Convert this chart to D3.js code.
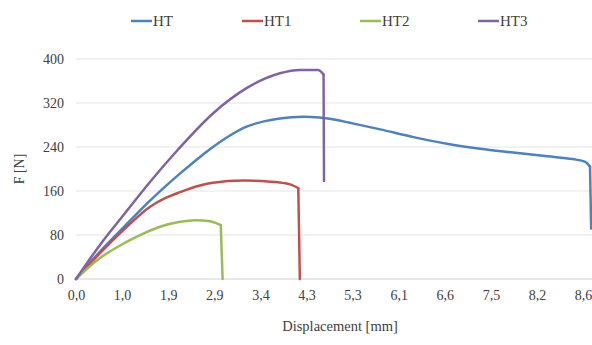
<!DOCTYPE html>
<html>
<head>
<meta charset="utf-8">
<script src="https://cdn.jsdelivr.net/npm/d3@7"></script>
<style>
  body { margin: 0; background: #fff; }
</style>
</head>
<body>
<div id="chart"></div>
<script>
// category labels shown on the x axis (Excel category axis)
const tickValues = [0, 1.0, 1.9, 2.9, 3.4, 4.3, 5.3, 6.1, 6.6, 7.5, 8.2, 8.6];
const tickLabels = ["0,0", "1,0", "1,9", "2,9", "3,4", "4,3", "5,3", "6,1", "6,6", "7,5", "8,2", "8,6"];
const yTicks = [0, 80, 160, 240, 320, 400];
const seriesNames = ["HT", "HT1", "HT2", "HT3"];

// displacement [mm] and force [N]
const htD = [0, 0.52, 1.06, 1.54, 2.16, 2.59, 2.87, 3.07, 3.25, 3.49, 3.78, 4.23, 4.96, 5.24, 5.78, 6.26, 6.64, 7.29, 7.84, 8.29, 8.51, 8.62, 8.66, 8.67];
const htF = [0, 50, 97, 142, 192, 222, 240, 261, 277, 287, 292, 295, 289, 284, 272, 258, 246, 237, 230, 223, 218, 213, 204, 92];

const ht1D = [0, 0.52, 1.06, 1.54, 1.84, 2.16, 2.59, 2.87, 3.21, 3.59, 3.98, 4.14, 4.17];
const ht1F = [0, 47, 92, 131, 147, 158, 170, 175, 179, 177, 172, 165, 0];

const ht2D = [0, 0.52, 1.06, 1.29, 1.74, 2.16, 2.48, 2.81, 2.97, 2.99];
const ht2F = [0, 38, 66, 77, 95, 104, 107, 105, 98, 0];

const ht3D = [0, 0.52, 1.06, 1.54, 2.11, 2.87, 3.25, 3.78, 4.17, 4.55, 4.67, 4.68];
const ht3F = [0, 62, 120, 176, 235, 301, 347, 374, 380, 380, 372, 178];

const colors = ["#4F81BD", "#C0504D", "#9BBB59", "#8064A2"];
const font = "'Liberation Serif'";

const width = 592;
const height = 345;
const margin = { top: 59, right: 0, bottom: 66, left: 76 };
const step = 46.1;

const svg = d3.select("#chart")
    .append("svg")
    .attr("width", width)
    .attr("height", height);

// category axis: each label sits at an equal step
const x = d3.scaleLinear()
    .domain(tickValues)
    .range(tickValues.map((d, i) => margin.left + i * step));

const y = d3.scaleLinear()
    .domain([0, 400])
    .range([height - margin.bottom, margin.top]);

// grid lines
svg.append("g")
    .selectAll("line")
    .data(yTicks)
    .join("line")
        .attr("x1", margin.left)
        .attr("x2", width)
        .attr("y1", d => y(d))
        .attr("y2", d => y(d))
        .attr("stroke", d => d === 0 ? "#d0d0d0" : "#e4e4e4")
        .attr("stroke-width", 1);

function yAxis(g) {
    g.attr("transform", `translate(${margin.left - 12}, 0)`)
        .call(d3.axisLeft(y).tickValues(yTicks).tickSize(0).tickPadding(0))
        .attr("font-size", "14px")
        .call(g => g.select(".domain").remove());
}

function xAxis(g) {
    g.attr("transform", `translate(0, ${y(0) + 11})`)
        .call(d3.axisBottom(x).tickValues(tickValues).tickSize(0).tickPadding(0)
            .tickFormat((d, i) => tickLabels[i]))
        .attr("font-size", "14px")
        .call(g => g.select(".domain").remove());
}

svg.append("g").call(yAxis);
svg.append("g").call(xAxis);
svg.selectAll(".tick text")
    .attr("fill", "#404040")
    .style("font-family", font);

const allSeries = [
    { D: htD, F: htF },
    { D: ht1D, F: ht1F },
    { D: ht2D, F: ht2F },
    { D: ht3D, F: ht3F }
];

const smooth = d3.line()
    .x(d => x(d[0]))
    .y(d => y(d[1]))
    .curve(d3.curveMonotoneX);
const straight = d3.line()
    .x(d => x(d[0]))
    .y(d => y(d[1]));

allSeries.forEach((s, i) => {
    const pts = s.D.map((d, k) => [d, s.F[k]]);
    const g = svg.append("g")
        .attr("fill", "none")
        .attr("stroke", colors[i])
        .attr("stroke-width", 2.5)
        .attr("stroke-linejoin", "round")
        .attr("stroke-linecap", "round");
    g.append("path").attr("d", smooth(pts.slice(0, -1)));
    g.append("path").attr("d", straight(pts.slice(-2)));//final drop
});

// legend
const legendX = [131, 242, 360, 478];
const legend = svg.append("g")
    .selectAll("g")
    .data(seriesNames)
    .join("g")
        .attr("transform", (d, i) => `translate(${legendX[i]}, 21)`);
legend.append("line")
    .attr("x1", 0).attr("x2", 21)
    .attr("stroke", (d, i) => colors[i])
    .attr("stroke-width", 2.5);
legend.append("text")
    .attr("x", 22)
    .attr("dy", "0.35em")
    .attr("font-size", "15px")
    .attr("fill", "#404040")
    .style("font-family", font)
    .text(d => d);

// axis titles
svg.append("text")
    .attr("transform", `translate(24, ${y(200)}) rotate(-90)`)
    .attr("text-anchor", "middle")
    .attr("font-size", "14px")
    .attr("fill", "#404040")
    .style("font-family", font)
    .text("F [N]");

svg.append("text")
    .attr("x", 340)
    .attr("y", 326)
    .attr("text-anchor", "middle")
    .attr("dy", "0.35em")
    .attr("font-size", "14.5px")
    .attr("fill", "#404040")
    .style("font-family", font)
    .text("Displacement [mm]");
</script>
</body>
</html>
